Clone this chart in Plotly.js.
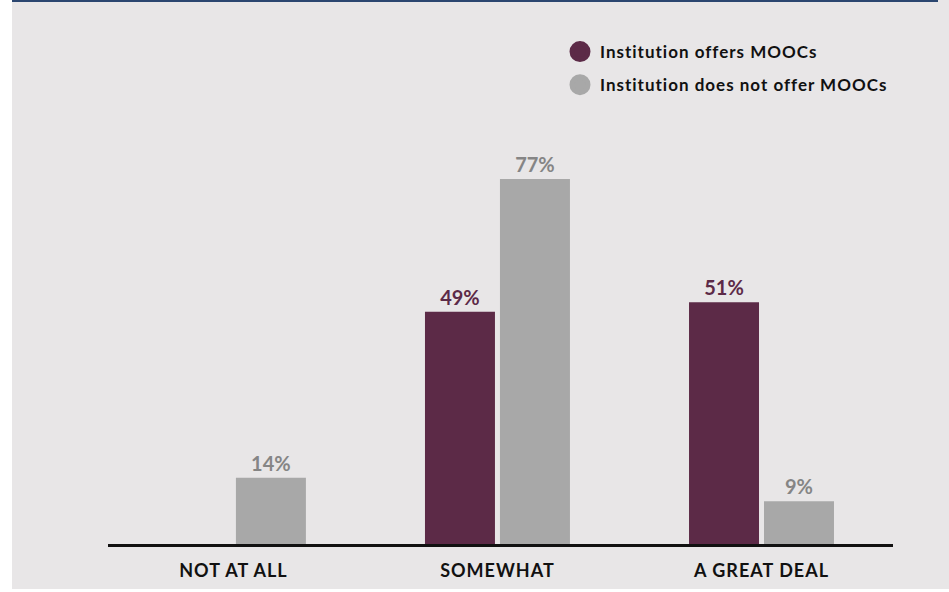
<!DOCTYPE html>
<html>
<head>
<meta charset="utf-8">
<script src="https://cdn.plot.ly/plotly-3.0.1.min.js"></script>
<style>
html,body{margin:0;padding:0;background:#fff;}
#chart{width:949px;height:592px;}
#chart .xtick text{letter-spacing:1px;}
#chart .legendtext{letter-spacing:1px;}
#chart .legend .scrollbox{clip-path:none !important;}
</style>
</head>
<body>
<div id="chart"></div>
<script>
const categories = ['NOT AT ALL', 'SOMEWHAT', 'A GREAT DEAL'];
const seriesNames = ['Institution offers MOOCs', 'Institution does not offer MOOCs'];
const offersValues = [null, 49, 51];
const notOfferValues = [14, 77, 9];
const seriesColors = ['#5c2a47', '#a8a8a8'];
const labelColors = ['#5c2a47', '#858585'];

const W = 949, H = 592;
const M = {l: 108, r: 56, t: 70, b: 48, autoexpand: false};
const pw = W - M.l - M.r, ph = H - M.t - M.b;
const px = v => (v - M.l) / pw;
const py = v => (H - M.b - v) / ph;

const FONT = 'Lato, "Open Sans", sans-serif';

function barTrace(vals, i) {
  return {
    type: 'bar', x: categories, y: vals, name: seriesNames[i],
    marker: {color: seriesColors[i]},
    text: vals.map(v => v == null ? '' : v + '%'),
    textposition: 'outside',
    textfont: {family: FONT, size: 20, color: labelColors[i], weight: 700},
    cliponaxis: false, showlegend: false, hoverinfo: 'skip'
  };
}
function legendTrace(i) {
  return {
    type: 'scatter', mode: 'markers', x: [null], y: [null], name: seriesNames[i],
    legendgroup: 'g' + i,
    marker: {color: seriesColors[i], size: 16, symbol: 'circle', line: {color: seriesColors[i], width: 5}},
    showlegend: true, hoverinfo: 'skip'
  };
}

const data = [barTrace(offersValues, 0), barTrace(notOfferValues, 1), legendTrace(0), legendTrace(1)];

const layout = {
  width: W, height: H,
  margin: M,
  paper_bgcolor: '#ffffff',
  plot_bgcolor: 'rgba(0,0,0,0)',
  font: {family: FONT, color: '#111'},
  barmode: 'group', bargap: 0.432, bargroupgap: 0.0667,
  xaxis: {
    type: 'category', categoryarray: categories, range: [-0.475, 2.498],
    showline: true, linecolor: '#111', linewidth: 3, ticks: '',
    showgrid: false, zeroline: false,
    tickfont: {family: FONT, size: 18, color: '#111', weight: 700},
    ticklabelstandoff: 8, fixedrange: true
  },
  yaxis: {range: [0, 100], visible: false, showgrid: false, zeroline: false, fixedrange: true},
  legend: {
    xref: 'container', yref: 'container',
    x: 560 / W, y: 1 - 34 / H, xanchor: 'left', yanchor: 'top',
    bgcolor: 'rgba(0,0,0,0)', traceorder: 'grouped', tracegroupgap: 8,
    font: {family: FONT, size: 17, color: '#111', weight: 700}
  },
  shapes: [
    {type: 'rect', layer: 'below', xref: 'paper', yref: 'paper',
     x0: px(12), x1: px(949), y0: py(0), y1: py(589),
     fillcolor: '#e8e6e7', line: {width: 0}},
    {type: 'rect', layer: 'below', xref: 'paper', yref: 'paper',
     x0: px(12), x1: px(938), y0: py(0), y1: py(2),
     fillcolor: '#2b4670', line: {width: 0}}
  ]
};

Plotly.newPlot('chart', data, layout, {displayModeBar: false, staticPlot: true});
</script>
</body>
</html>
